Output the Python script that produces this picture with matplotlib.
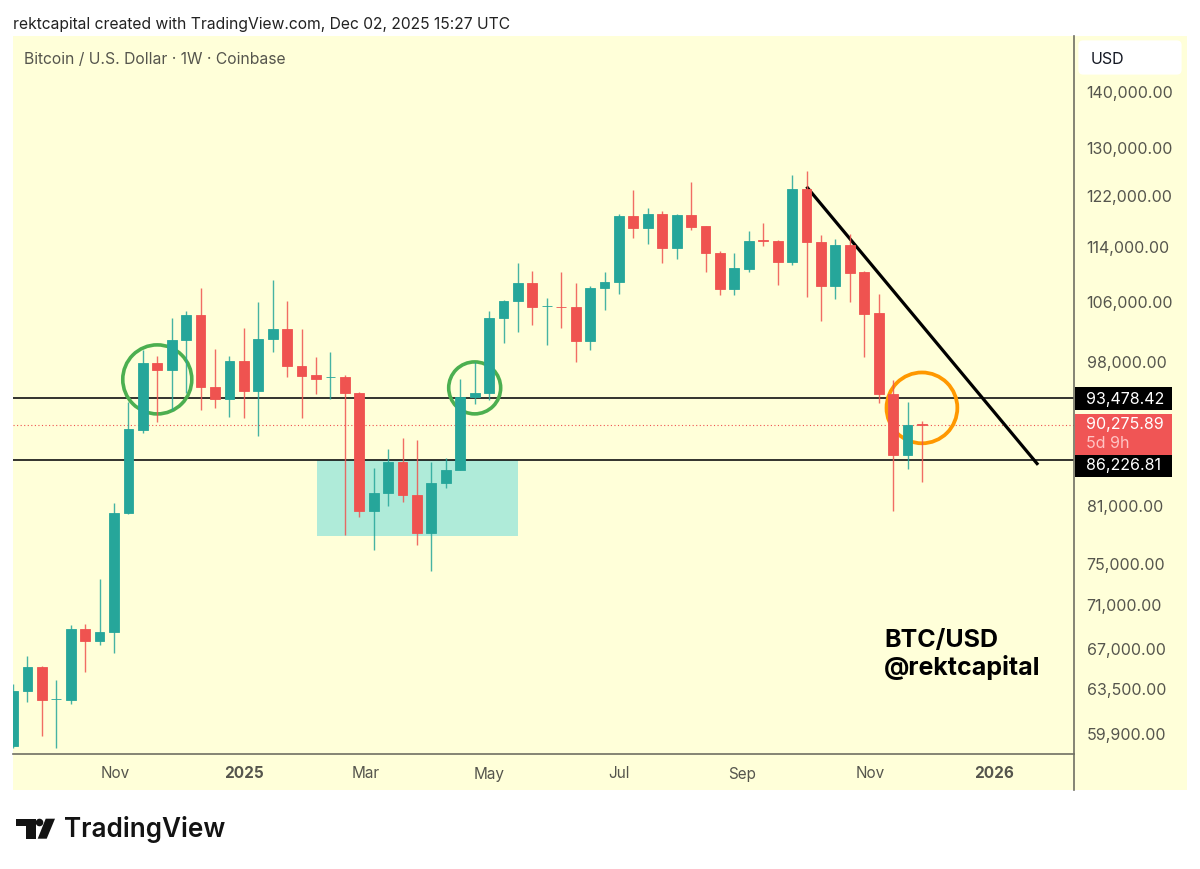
import matplotlib
matplotlib.use("Agg")
import matplotlib.pyplot as plt
from matplotlib.lines import Line2D
from matplotlib.patches import Rectangle, FancyBboxPatch, Polygon, Circle

plt.rcParams["font.family"] = ["Inter", "DejaVu Sans"]

# weekly candles
opens = [58940, 63370, 65410, 62700, 62640, 68780, 67700, 68540, 80150, 89560, 97790, 96960, 100850, 104200, 94810, 93240, 98080, 94230, 100940, 102280, 97400, 96250, 96030, 95990, 93980, 80460, 82340, 85820, 82080, 78090, 83470, 84910, 93520, 93980, 103780, 106190, 108740, 105490, 105350, 105300, 100710, 108070, 108930, 118870, 117000, 119180, 113850, 118930, 117210, 113190, 107930, 110820, 115060, 114960, 111850, 123190, 114760, 108310, 114300, 110290, 104470, 93890, 86580, 90240]
highs = [63980, 66390, 65460, 64320, 69150, 69260, 73480, 81320, 92940, 99520, 98730, 103780, 104830, 108070, 99650, 98730, 102500, 106050, 109180, 106230, 102280, 98640, 99220, 96250, 94180, 85110, 87270, 88590, 88320, 85850, 86240, 95740, 97920, 104750, 106370, 111700, 110530, 106570, 110340, 108740, 108270, 110290, 119180, 122980, 120040, 119560, 119090, 124290, 117310, 113400, 113100, 116530, 117730, 115150, 125440, 126060, 115830, 115260, 116030, 110440, 107220, 95650, 92940, 90600]
lows = [58790, 62420, 59670, 58730, 62290, 64980, 67310, 66630, 80080, 89210, 90520, 91930, 94060, 91930, 92210, 91080, 91000, 88860, 99220, 95990, 91000, 93890, 93240, 77920, 79800, 76390, 80970, 81360, 76890, 74230, 82880, 84910, 92660, 93190, 100490, 101960, 102870, 100140, 102500, 97990, 99480, 104890, 107220, 115410, 114550, 111700, 112300, 116640, 110380, 107070, 107030, 110340, 114150, 108460, 111360, 106790, 103370, 106470, 106050, 98640, 92750, 80360, 84990, 83610]
closes = [63390, 65410, 62580, 62700, 68780, 67700, 68540, 80220, 89680, 97790, 96960, 100850, 104200, 94770, 93240, 98080, 94230, 100940, 102280, 97400, 96200, 95780, 96030, 93980, 80460, 82340, 85820, 82080, 78090, 83500, 84950, 93490, 93980, 103820, 106230, 108740, 105350, 105490, 105300, 100710, 108070, 108930, 118870, 117000, 119140, 113850, 118980, 117150, 113150, 107930, 110880, 115000, 115000, 111850, 123190, 114760, 108310, 114300, 110190, 104420, 93890, 86580, 90120, 90060]

price_ticks = [140000, 130000, 122000, 114000, 106000, 98000, 81000, 75000, 71000, 67000, 63500, 59900]
month_pos = [7.1, 16, 24.45, 33, 42, 50.5, 59.4, 68]
month_labels = ["Nov", "2025", "Mar", "May", "Jul", "Sep", "Nov", "2026"]

# values printed on the scale
label_high = 93478.42
label_last = 90275.89
label_low = 86226.81

# where those lines sit on the drawn scale
line_high = 93340
line_last = 90100
line_low = 86040

box_x = [21.05, 35.0]
box_price = [77760, line_low]
trend_x = [55, 71.05]
trend_price = [123520, 85480]

green_x = [10, 32]
green_price = [95710, 94640]
green_size = [2470, 1400]
orange_x = [63]
orange_price = [92170]
orange_size = [2600]

TEAL = "#26a69a"
RED = "#ef5350"
BG = "#ffffd9"
AXIS = "#6f6f63"
LABEL = "#55554d"

W, H = 1200, 869


def fx(x):
    return x / W


def fy(y):
    return 1 - y / H


fig = plt.figure(figsize=(W / 100, H / 100), dpi=100, facecolor="white")

# panel behind chart, price scale and time scale
fig.patches.append(Rectangle((fx(13), fy(790)), fx(1174), (790 - 36) / H, transform=fig.transFigure,
                             facecolor=BG, edgecolor="none", zorder=-1))

ax = fig.add_axes([fx(13), fy(754), fx(1061), (754 - 36) / H])
ax.patch.set_alpha(0)
ax.set_yscale("log")
ax.set_xlim(0, 73.54)
ax.set_ylim(58300, 150770)

for s in ["top", "left", "right"]:
    ax.spines[s].set_visible(False)
ax.spines["bottom"].set_color(AXIS)
ax.spines["bottom"].set_linewidth(1.2)

# price scale border runs down through the time scale
fig.add_artist(Line2D([fx(1074), fx(1074)], [fy(36), fy(790)], color=AXIS, lw=1.2))

# drawings sit under the candles
ax.add_patch(Rectangle((box_x[0], box_price[0]), box_x[1] - box_x[0], box_price[1] - box_price[0],
                       facecolor="#afebd9", edgecolor="none", zorder=1))
ax.axhline(line_high, color="#111111", lw=1.2, zorder=2)
ax.axhline(line_low, color="#111111", lw=1.2, zorder=2)
ax.axhline(line_last, color=RED, lw=0.8, ls=(0, (1, 2.2)), zorder=2)
ax.plot(trend_x, trend_price, color="black", lw=2.3, solid_capstyle="butt", zorder=2)
ax.scatter(green_x, green_price, s=green_size, facecolors="none", edgecolors="#4caf50", linewidths=2.6, zorder=2)
ax.scatter(orange_x, orange_price, s=orange_size, facecolors="none", edgecolors="#ff9800", linewidths=2.7, zorder=2)

# candles
xs = list(range(len(opens)))
colors = [TEAL if c >= o else RED for o, c in zip(opens, closes)]
ax.vlines(xs, lows, highs, colors=colors, lw=1.0, alpha=0.85, zorder=3)
bottoms = [min(o, c) for o, c in zip(opens, closes)]
heights = [abs(o - c) for o, c in zip(opens, closes)]
ax.bar(xs, heights, bottom=bottoms, width=0.68, color=colors, edgecolor=colors, linewidth=0.6, zorder=4)

# price scale
ax.yaxis.tick_right()
ax.set_yticks(price_ticks)
ax.set_yticklabels([f"{p:,.2f}" for p in price_ticks], fontsize=11.5, color=LABEL)
ax.minorticks_off()
ax.tick_params(axis="y", length=0, pad=9)

# time scale
ax.set_xticks(month_pos)
ax.set_xticklabels(month_labels, fontsize=11, color=LABEL)
ax.tick_params(axis="x", length=0, pad=9)
for lab in ax.get_xticklabels():
    if lab.get_text().startswith("20"):
        lab.set_fontweight("bold")

# header texts
fig.text(fx(13), fy(24), "rektcapital created with TradingView.com, Dec 02, 2025 15:27 UTC",
         fontsize=11.26, color="#222222", va="center", ha="left")
fig.text(fx(24), fy(60), "Bitcoin / U.S. Dollar \u00b7 1W \u00b7 Coinbase",
         fontsize=11.3, color=LABEL, va="center", ha="left")
fig.text(fx(884), fy(641), "BTC/USD", fontsize=18, fontweight="bold", color="black", va="center", ha="left")
fig.text(fx(884), fy(667), "@rektcapital", fontsize=18, fontweight="bold", color="black", va="center", ha="left")

# USD button
fig.patches.append(FancyBboxPatch((fx(1082), fy(71)), fx(96), 27 / H, boxstyle="round,pad=0.003,rounding_size=0.004",
                                  transform=fig.transFigure, facecolor="white", edgecolor="none", zorder=1,
                                  mutation_aspect=W / H))
fig.text(fx(1091), fy(59), "USD", fontsize=11.5, color="#131722", va="center", ha="left", zorder=3)

# price labels on the scale
for top, bottom, color in [(387, 410, "black"), (414, 455, "#f05555"), (455, 477, "black")]:
    fig.patches.append(Rectangle((fx(1075), fy(bottom)), fx(97), (bottom - top) / H, transform=fig.transFigure,
                                 facecolor=color, edgecolor="none", zorder=2))
fig.text(fx(1086), fy(399), f"{label_high:,.2f}", fontsize=11.5, color="white", va="center", ha="left", zorder=3)
fig.text(fx(1086), fy(424), f"{label_last:,.2f}", fontsize=11.5, color="white", va="center", ha="left", zorder=3)
fig.text(fx(1086), fy(443), "5d 9h", fontsize=11.5, color="#ffc4c4", va="center", ha="left", zorder=3)
fig.text(fx(1086), fy(466), f"{label_low:,.2f}", fontsize=11.5, color="white", va="center", ha="left", zorder=3)

# logo
def px(pts):
    return [(fx(x), fy(y)) for x, y in pts]


LOGO = "#131313"
fig.patches.append(Polygon(px([(15.7, 818.7), (35.7, 818.7), (35.7, 838.7), (25.7, 838.7), (25.7, 826), (15.7, 826)]),
                           transform=fig.transFigure, facecolor=LOGO, edgecolor="none", zorder=2))
fig.patches.append(Polygon(px([(45.7, 818.7), (55, 818.7), (46.7, 838.7), (37.7, 838.7)]),
                           transform=fig.transFigure, facecolor=LOGO, edgecolor="none", zorder=2))
ax_logo = fig.add_axes([0, 0, 1, 1], facecolor="none")
ax_logo.set_xlim(0, W)
ax_logo.set_ylim(H, 0)
ax_logo.axis("off")
ax_logo.add_patch(Circle((39.5, 822.5), 3.8, facecolor=LOGO, edgecolor="none"))
fig.text(fx(64), fy(829.5), "TradingView", fontsize=18.8, fontweight="semibold", color=LOGO, va="center", ha="left")

fig.savefig("out.png", dpi=100)
